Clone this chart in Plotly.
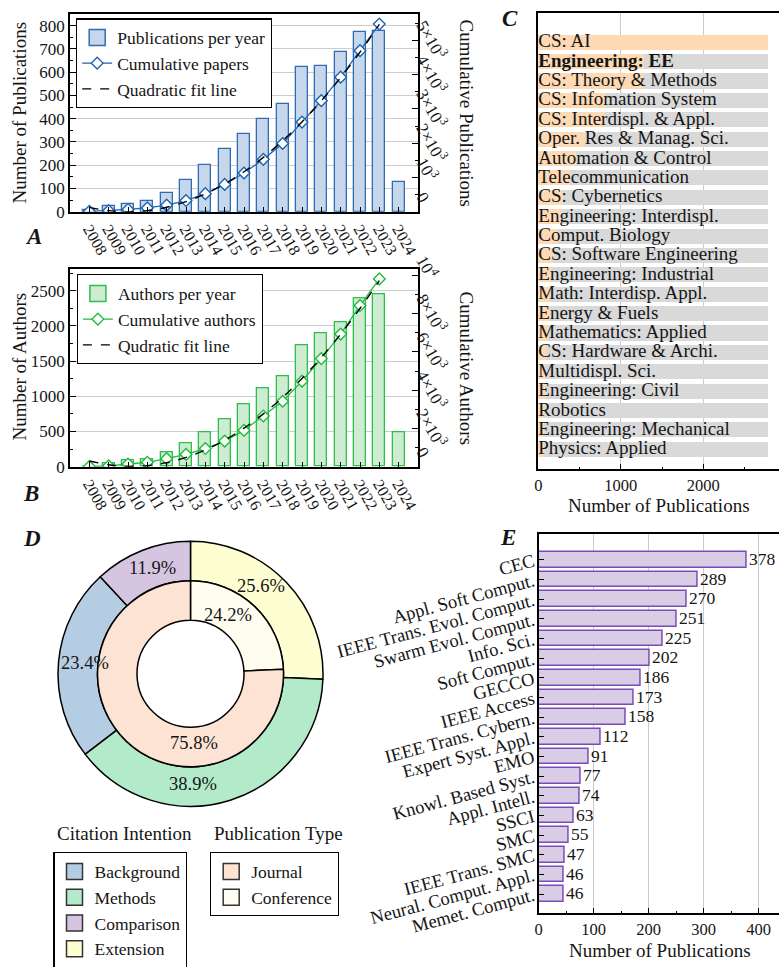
import plotly.graph_objects as go

W, H = 779, 967

# ---------------- data ----------------
years = [2008, 2009, 2010, 2011, 2012, 2013, 2014, 2015, 2016,
         2017, 2018, 2019, 2020, 2021, 2022, 2023, 2024]
year_labels = [str(y) for y in years]
pubs_per_year = [7, 24, 34, 44, 82, 135, 199, 270, 334, 399, 462, 624, 625, 687, 771, 778, 126]
cum_years = [2008, 2009, 2010, 2011, 2012, 2013, 2014, 2015,
             2016, 2017, 2018, 2019, 2020, 2021, 2022, 2023]
cum_pubs = [7, 31, 65, 109, 191, 326, 525, 795, 1129, 1528, 1990, 2614, 3239, 3926, 4697, 5475]
pubs_fit = [126, 30, -1, 32, 130, 292, 519, 810, 1166, 1586, 2071, 2620, 3234, 3913, 4656, 5463]
pubs_right_ticks = [0, 1000, 2000, 3000, 4000, 5000]
pubs_right_labels = ["0", "10<sup>3</sup>", "2×10<sup>3</sup>", "3×10<sup>3</sup>",
                     "4×10<sup>3</sup>", "5×10<sup>3</sup>"]

authors_per_year = [10, 45, 85, 105, 208, 331, 488, 668, 881, 1108, 1283, 1724, 1894, 2045, 2386, 2448, 488]
cum_authors = [10, 45, 140, 230, 420, 640, 950, 1340, 1900, 2650, 3420, 4470, 5650, 6930, 8420, 9810]
authors_fit = [300, 101, 20, 57, 212, 485, 877, 1387, 2015, 2761, 3626, 4609, 5710, 6929, 8266, 9722]
authors_right_ticks = [0, 2000, 4000, 6000, 8000, 10000]
authors_right_labels = ["0", "2×10<sup>3</sup>", "4×10<sup>3</sup>", "6×10<sup>3</sup>",
                        "8×10<sup>3</sup>", "10<sup>4</sup>"]

c_categories = ["CS: AI", "Engineering: EE", "CS: Theory & Methods", "CS: Infomation System",
                "CS: Interdispl. & Appl.", "Oper. Res & Manag. Sci.", "Automation & Control",
                "Telecommunication", "CS: Cybernetics", "Engineering: Interdispl.",
                "Comput. Biology", "CS: Software Engineering", "Engineering: Industrial",
                "Math: Interdisp. Appl.", "Energy & Fuels", "Mathematics: Applied",
                "CS: Hardware & Archi.", "Multidispl. Sci.", "Engineering: Civil", "Robotics",
                "Engineering: Mechanical", "Physics: Applied"]
c_counts = [2788, 1285, 1275, 830, 815, 566, 457, 384, 303, 283, 242, 182, 162,
            150, 141, 121, 101, 89, 81, 73, 73, 69]
c_total = [2788, 2788, 2788, 2788, 2788, 2788, 2788, 2788, 2788, 2788, 2788,
           2788, 2788, 2788, 2788, 2788, 2788, 2788, 2788, 2788, 2788, 2788]
c_highlight = "Engineering: EE"

d_intent_labels = ["Background", "Methods", "Comparison", "Extension"]
d_intent_pct = [23.4, 38.9, 11.9, 25.6]
d_type_labels = ["Journal", "Conference"]
d_type_pct = [75.8, 24.2]

e_venues = ["CEC", "Appl. Soft Comput.", "IEEE Trans. Evol. Comput.", "Swarm Evol. Comput.",
            "Info. Sci.", "Soft Comput.", "GECCO", "IEEE Access", "IEEE Trans. Cybern.",
            "Expert Syst. Appl.", "EMO", "Knowl. Based Syst.", "Appl. Intell.", "SSCI", "SMC",
            "IEEE Trans. SMC", "Neural. Comput. Appl.", "Memet. Comput."]
e_counts = [378, 289, 270, 251, 225, 202, 186, 173, 158, 112, 91, 77, 74, 63, 55, 47, 46, 46]

# ---------------- style ----------------
FONT = "Liberation Serif"
TXT = "#151515"
BLUE_FILL, BLUE_EDGE, BLUE_LINE = "#c6d7eb", "#2f6db3", "#1f63ad"
GREEN_FILL, GREEN_EDGE, GREEN_LINE = "#cdecd2", "#2cbf4c", "#1fbb3c"
ORANGE, GRAY = "#fdd9b4", "#d9d9d9"
PURPLE_FILL, PURPLE_EDGE = "#d9cde6", "#7a4db6"
INTENT_COLORS = {"Background": "#b5cde3", "Methods": "#b3ebca",
                 "Comparison": "#d5c5e1", "Extension": "#fefed3"}
TYPE_COLORS = {"Journal": "#fde3d3", "Conference": "#fffdf0"}
GRID = "#cccccc"


def px(x):
    return x / W


def py(y):
    return 1 - y / H


fig = go.Figure()

# ---------- Panel A ----------
fig.add_trace(go.Bar(x=years, y=pubs_per_year, width=0.62, xaxis="x", yaxis="y",
                     marker=dict(color=BLUE_FILL, line=dict(color=BLUE_EDGE, width=1.3)),
                     showlegend=False))
fig.add_trace(go.Scatter(x=[None], y=[None], xaxis="x", yaxis="y", mode="markers",
                         name="Publications per year", legend="legend",
                         marker=dict(symbol="square", size=16, color=BLUE_FILL,
                                     line=dict(color=BLUE_EDGE, width=1.5))))
fig.add_trace(go.Scatter(x=cum_years, y=cum_pubs, xaxis="x", yaxis="y2", mode="lines+markers",
                         name="Cumulative papers", legend="legend",
                         line=dict(color=BLUE_LINE, width=1.3),
                         marker=dict(symbol="diamond", size=9, color="white",
                                     line=dict(color=BLUE_LINE, width=1.4))))
fig.add_trace(go.Scatter(x=cum_years, y=pubs_fit, xaxis="x", yaxis="y2", mode="lines",
                         name="Quadratic fit line", legend="legend",
                         line=dict(color="black", width=1.4, dash="dash", shape="spline")))

# ---------- Panel B ----------
fig.add_trace(go.Bar(x=years, y=authors_per_year, width=0.62, xaxis="x2", yaxis="y3",
                     marker=dict(color=GREEN_FILL, line=dict(color=GREEN_EDGE, width=1.3)),
                     showlegend=False))
fig.add_trace(go.Scatter(x=[None], y=[None], xaxis="x2", yaxis="y3", mode="markers",
                         name="Authors per year", legend="legend2",
                         marker=dict(symbol="square", size=16, color=GREEN_FILL,
                                     line=dict(color=GREEN_EDGE, width=1.5))))
fig.add_trace(go.Scatter(x=cum_years, y=cum_authors, xaxis="x2", yaxis="y4", mode="lines+markers",
                         name="Cumulative authors", legend="legend2",
                         line=dict(color=GREEN_LINE, width=1.3),
                         marker=dict(symbol="diamond", size=9, color="white",
                                     line=dict(color=GREEN_LINE, width=1.4))))
fig.add_trace(go.Scatter(x=cum_years, y=authors_fit, xaxis="x2", yaxis="y4", mode="lines",
                         name="Qudratic fit line", legend="legend2",
                         line=dict(color="black", width=1.4, dash="dash", shape="spline")))

# ---------- Panel C ----------
fig.add_trace(go.Bar(x=c_total, y=c_categories, orientation="h", width=0.78,
                     xaxis="x3", yaxis="y5", marker=dict(color=GRAY, line=dict(width=0)),
                     showlegend=False))
fig.add_trace(go.Bar(x=c_counts, y=c_categories, orientation="h", width=0.78,
                     xaxis="x3", yaxis="y5", marker=dict(color=ORANGE, line=dict(width=0)),
                     showlegend=False))
fig.add_trace(go.Scatter(x=[0] * len(c_categories), y=c_categories, mode="text",
                         text=[f"<b>{c}</b>" if c == c_highlight else c for c in c_categories],
                         textposition="middle right",
                         textfont=dict(family=FONT, size=19, color=TXT),
                         xaxis="x3", yaxis="y5", showlegend=False, cliponaxis=False))

# ---------- Panel D ----------
CX, CY, R_OUT, R_MID, R_IN = 190.5, 673.8, 132.5, 93.0, 53.5
outer_order = ["Extension", "Methods", "Background", "Comparison"]
outer_vals = [d_intent_pct[d_intent_labels.index(l)] for l in outer_order]
fig.add_trace(go.Pie(labels=outer_order, values=outer_vals, sort=False, direction="clockwise",
                     hole=R_MID / R_OUT, textinfo="none", showlegend=False,
                     marker=dict(colors=[INTENT_COLORS[l] for l in outer_order],
                                 line=dict(color="black", width=1.5)),
                     domain=dict(x=[px(CX - R_OUT), px(CX + R_OUT)],
                                 y=[py(CY + R_OUT), py(CY - R_OUT)])))
inner_order = ["Conference", "Journal"]
inner_vals = [d_type_pct[d_type_labels.index(l)] for l in inner_order]
fig.add_trace(go.Pie(labels=inner_order, values=inner_vals, sort=False, direction="clockwise",
                     hole=R_IN / R_MID, textinfo="none", showlegend=False,
                     marker=dict(colors=[TYPE_COLORS[l] for l in inner_order],
                                 line=dict(color="black", width=1.5)),
                     domain=dict(x=[px(CX - R_MID), px(CX + R_MID)],
                                 y=[py(CY + R_MID), py(CY - R_MID)])))
for lab in d_intent_labels:
    fig.add_trace(go.Scatter(x=[None], y=[None], xaxis="x", yaxis="y", mode="markers",
                             name=lab, legend="legend3",
                             marker=dict(symbol="square", size=16, color=INTENT_COLORS[lab],
                                         line=dict(color="#333333", width=1.5))))
for lab in d_type_labels:
    fig.add_trace(go.Scatter(x=[None], y=[None], xaxis="x", yaxis="y", mode="markers",
                             name=lab, legend="legend4",
                             marker=dict(symbol="square", size=16, color=TYPE_COLORS[lab],
                                         line=dict(color="#333333", width=1.5))))

# ---------- Panel E ----------
fig.add_trace(go.Bar(x=e_counts, y=e_venues, orientation="h", width=0.8,
                     xaxis="x4", yaxis="y6", text=[str(v) for v in e_counts],
                     textposition="outside", constraintext="none", cliponaxis=False,
                     textfont=dict(family=FONT, size=17.5, color=TXT),
                     marker=dict(color=PURPLE_FILL, line=dict(color=PURPLE_EDGE, width=1.5)),
                     showlegend=False))

# ---------------- axes ----------------
axis_common = dict(showline=True, linecolor="black", linewidth=1.5, mirror=True,
                   ticks="inside", tickcolor="black", tickwidth=1.2, automargin=False,
                   zeroline=False, tickfont=dict(family=FONT, size=17, color=TXT))

A_X = [px(70), px(418)]
fig.update_layout(
    xaxis=dict(axis_common, domain=A_X, anchor="y", range=[2007, 2025], tickvals=years,
               ticktext=year_labels, tickangle=60, ticklen=5, showgrid=False,
               tickfont=dict(family=FONT, size=16, color=TXT)),
    yaxis=dict(axis_common, domain=[py(211.7), py(14)], anchor="x", range=[0, 850], dtick=100,
               ticklen=6, showgrid=True, gridcolor=GRID, gridwidth=1,
               minor=dict(dtick=50, ticks="inside", ticklen=3, tickcolor="black", showgrid=False)),
    yaxis2=dict(axis_common, overlaying="y", side="right", anchor="x", range=[0, 5768],
                tickvals=pubs_right_ticks, ticktext=pubs_right_labels, tickangle=60,
                ticklabelshift=-17, ticklen=6, showgrid=False, mirror=False,
                minor=dict(dtick=500, ticks="inside", ticklen=3, tickcolor="black")),
    xaxis2=dict(axis_common, domain=A_X, anchor="y3", range=[2007, 2025], tickvals=years,
                ticktext=year_labels, tickangle=60, ticklen=5, showgrid=False,
                tickfont=dict(family=FONT, size=16, color=TXT)),
    yaxis3=dict(axis_common, domain=[py(466.7), py(269.3)], anchor="x2", range=[0, 2803],
                dtick=500, ticklen=6, showgrid=True, gridcolor=GRID, gridwidth=1,
                minor=dict(dtick=250, ticks="inside", ticklen=3, tickcolor="black", showgrid=False)),
    yaxis4=dict(axis_common, overlaying="y3", side="right", anchor="x2", range=[0, 10313],
                tickvals=authors_right_ticks, ticktext=authors_right_labels, tickangle=60,
                ticklabelshift=-17, ticklen=6, showgrid=False, mirror=False,
                minor=dict(dtick=1000, ticks="inside", ticklen=3, tickcolor="black")),
    xaxis3=dict(axis_common, domain=[px(538.3), 1.0], anchor="y5", range=[0, 2918], dtick=1000,
                ticklen=6, showgrid=True, gridcolor=GRID, gridwidth=1,
                tickfont=dict(family=FONT, size=16.5, color=TXT),
                minor=dict(dtick=500, ticks="inside", ticklen=3, tickcolor="black", showgrid=False)),
    yaxis5=dict(axis_common, domain=[py(469.3), py(13.3)], anchor="x3", type="category",
                categoryorder="array", categoryarray=c_categories, range=[22.02, -1.51],
                showticklabels=False, ticks="", showgrid=False),
    xaxis4=dict(axis_common, domain=[px(538.7), 1.0], anchor="y6", range=[0, 437], dtick=100,
                ticklen=6, showgrid=True, gridcolor=GRID, gridwidth=1,
                tickfont=dict(family=FONT, size=16.5, color=TXT),
                minor=dict(dtick=50, ticks="inside", ticklen=3, tickcolor="black", showgrid=False)),
    yaxis6=dict(axis_common, domain=[py(913.3), py(534)], anchor="x4", type="category",
                categoryorder="array", categoryarray=e_venues, range=[17.98, -1.32],
                tickmode="linear", tick0=0, dtick=1,
                ticklen=6, tickangle=-15, showgrid=False,
                tickfont=dict(family=FONT, size=18.5, color=TXT)),
)

# ---------------- legends ----------------
leg_common = dict(xanchor="left", yanchor="top", bordercolor="black", borderwidth=1.2,
                  bgcolor="white", font=dict(family=FONT, size=17.5, color=TXT),
                  tracegroupgap=0, traceorder="normal")
fig.update_layout(
    legend=dict(leg_common, x=px(76), y=py(18.3)),
    legend2=dict(leg_common, x=px(76.7), y=py(274.3)),
    legend3=dict(leg_common, x=px(53.3), y=py(852.3)),
    legend4=dict(leg_common, x=px(210), y=py(852.3)),
)

# ---------------- annotations ----------------
ann = []


def text(x, y, s, size=19, angle=0, **kw):
    ann.append(dict(x=px(x), y=py(y), xref="paper", yref="paper", text=s, showarrow=False,
                    textangle=angle, font=dict(family=FONT, size=size, color=TXT),
                    xanchor="center", yanchor="middle", **kw))


text(18.5, 113, "Number of Publications", angle=-90)
text(466.5, 113, "Cumulative Publications", angle=90)
text(18.5, 367, "Number of Authors", angle=-90)
text(466.5, 368, "Cumulative Authors", angle=90)
text(659, 505, "Number of Publications")
text(660, 950, "Number of Publications")
text(124.5, 833.3, "Citation Intention")
text(278.7, 833.3, "Publication Type")

for lab, x, y in [("A", 33, 236), ("B", 31, 493), ("C", 510, 18), ("D", 32, 538), ("E", 508, 537)]:
    text(x, y, f"<b><i>{lab}</i></b>", size=23)

# pie percentage labels: positions relative to pie centre (px)
label_offsets = {"Extension": (70.7, 88.0), "Methods": (2.0, -110.5),
                 "Background": (-105.5, 10.5), "Comparison": (-38.0, 105.5),
                 "Conference": (37.3, 58.8), "Journal": (3.5, -69.5)}
for lab, v in zip(d_intent_labels, d_intent_pct):
    dx, dy = label_offsets[lab]
    text(CX + dx, CY - dy, f"{v}%", size=18.5)
for lab, v in zip(d_type_labels, d_type_pct):
    dx, dy = label_offsets[lab]
    text(CX + dx, CY - dy, f"{v}%", size=18.5)

fig.update_layout(
    annotations=ann,
    width=W, height=H, margin=dict(l=0, r=0, t=0, b=0, pad=0, autoexpand=False),
    paper_bgcolor="white", plot_bgcolor="white",
    barmode="overlay", bargap=0,
    font=dict(family=FONT, size=17, color=TXT),
)

fig.write_html("out.html", config={"displayModeBar": False},
               post_script="document.body.style.margin='0px';document.body.style.overflow='hidden';")
